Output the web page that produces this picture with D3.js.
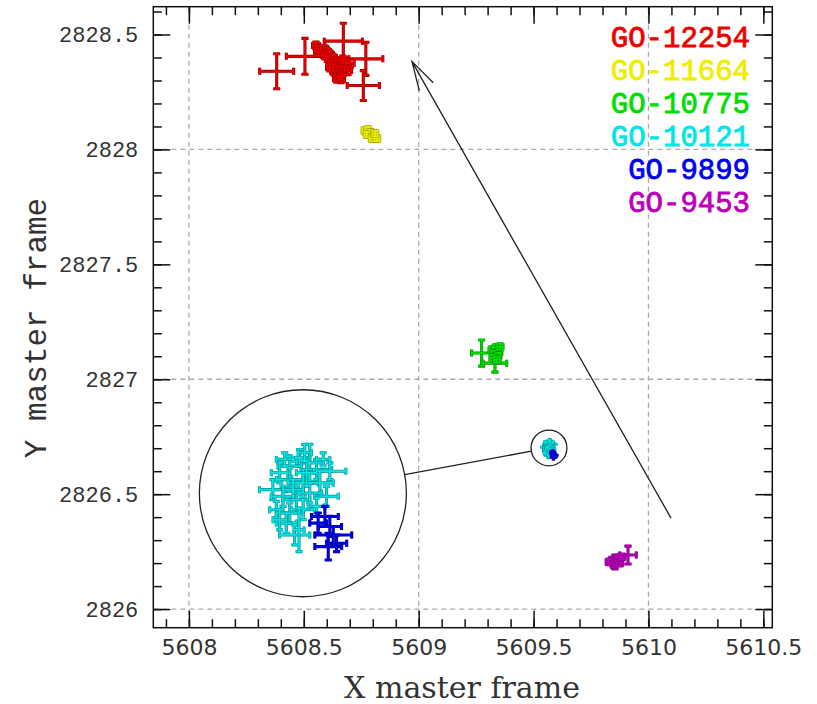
<!DOCTYPE html>
<html>
<head>
<meta charset="utf-8">
<script src="https://cdn.jsdelivr.net/npm/d3@7"></script>
<style>
  body { margin: 0; background: #fff; }
  svg { display: block; }
</style>
</head>
<body>
<svg id="chart" width="817" height="704"></svg>
<script>
// series: [x, y, xerr, yerr]
const seriesNames = ["GO-12254", "GO-11664", "GO-10775", "GO-10121", "GO-9899", "GO-9453"];
const seriesColors = ["#ee0000", "#eeee00", "#00dd00", "#00e6e6", "#0000ee", "#bb00bb"];

const go12254 = [
  [5608.382, 2828.340, 0.074, 0.076], [5608.505, 2828.405, 0.081, 0.078],
  [5608.672, 2828.471, 0.083, 0.078], [5608.770, 2828.394, 0.074, 0.072],
  [5608.759, 2828.278, 0.070, 0.065],
  [5608.553, 2828.452, 0.015, 0.015], [5608.570, 2828.435, 0.015, 0.015],
  [5608.561, 2828.422, 0.014, 0.015], [5608.588, 2828.439, 0.015, 0.014],
  [5608.601, 2828.426, 0.015, 0.015], [5608.592, 2828.409, 0.014, 0.015],
  [5608.614, 2828.413, 0.015, 0.015], [5608.627, 2828.400, 0.015, 0.014],
  [5608.609, 2828.391, 0.015, 0.015], [5608.635, 2828.382, 0.014, 0.015],
  [5608.622, 2828.369, 0.015, 0.015], [5608.649, 2828.374, 0.015, 0.015],
  [5608.640, 2828.356, 0.015, 0.014], [5608.657, 2828.348, 0.015, 0.015],
  [5608.631, 2828.339, 0.014, 0.015], [5608.649, 2828.326, 0.015, 0.015],
  [5608.666, 2828.330, 0.015, 0.015], [5608.644, 2828.308, 0.015, 0.015],
  [5608.662, 2828.304, 0.015, 0.014], [5608.679, 2828.365, 0.016, 0.016],
  [5608.670, 2828.391, 0.015, 0.015], [5608.614, 2828.356, 0.015, 0.015],
  [5608.701, 2828.374, 0.018, 0.017], [5608.692, 2828.343, 0.016, 0.018]
];
const go11664 = [
  [5608.766, 2828.082, 0.012, 0.012], [5608.779, 2828.086, 0.012, 0.012],
  [5608.792, 2828.073, 0.012, 0.012], [5608.775, 2828.064, 0.012, 0.012],
  [5608.805, 2828.060, 0.012, 0.012], [5608.797, 2828.047, 0.012, 0.012],
  [5608.818, 2828.047, 0.012, 0.012], [5608.810, 2828.069, 0.012, 0.012]
];
const go10775 = [
  [5609.274, 2827.114, 0.044, 0.057], [5609.332, 2827.070, 0.051, 0.039],
  [5609.319, 2827.128, 0.013, 0.013], [5609.336, 2827.137, 0.013, 0.013],
  [5609.349, 2827.119, 0.013, 0.013], [5609.328, 2827.111, 0.013, 0.013],
  [5609.345, 2827.102, 0.013, 0.013], [5609.323, 2827.093, 0.013, 0.013],
  [5609.341, 2827.085, 0.013, 0.013], [5609.354, 2827.141, 0.013, 0.013]
];
const go10121 = [
  [5609.5722, 2826.7239, 0.0101, 0.0139], [5609.5646, 2826.7277, 0.0076, 0.0063],
  [5609.5571, 2826.7214, 0.0088, 0.0076], [5609.5495, 2826.7164, 0.0063, 0.0076],
  [5609.5773, 2826.7189, 0.0114, 0.0076], [5609.5873, 2826.7176, 0.0121, 0.0063],
  [5609.5444, 2826.7037, 0.0101, 0.0076], [5609.5571, 2826.7113, 0.0101, 0.0088],
  [5609.5672, 2826.7088, 0.0114, 0.0101], [5609.5798, 2826.7088, 0.0101, 0.0088],
  [5609.5848, 2826.6987, 0.0088, 0.0076], [5609.5520, 2826.6987, 0.0088, 0.0076],
  [5609.5621, 2826.6962, 0.0101, 0.0101], [5609.5722, 2826.7012, 0.0088, 0.0076],
  [5609.5470, 2826.6886, 0.0050, 0.0063], [5609.5571, 2826.6861, 0.0101, 0.0076],
  [5609.5672, 2826.6886, 0.0088, 0.0076], [5609.5545, 2826.6785, 0.0076, 0.0076],
  [5609.5608, 2826.6696, 0.0114, 0.0076], [5609.5641, 2826.6734, 0.0038, 0.0164],
  [5609.5773, 2826.6911, 0.0063, 0.0063], [5609.5495, 2826.6810, 0.0050, 0.0076],
  [5609.5697, 2826.7164, 0.0076, 0.0101], [5609.5596, 2826.7037, 0.0076, 0.0076],
  [5609.5823, 2826.7265, 0.0050, 0.0050], [5609.5533, 2826.7265, 0.0063, 0.0050],
  [5609.5684, 2826.7315, 0.0050, 0.0063]
];
const go9899 = [
  [5609.5836, 2826.6835, 0.0101, 0.0076], [5609.5873, 2826.6760, 0.0088, 0.0076],
  [5609.5899, 2826.6696, 0.0139, 0.0063], [5609.5861, 2826.6608, 0.0101, 0.0101],
  [5609.5785, 2826.6785, 0.0063, 0.0076], [5609.5924, 2826.6633, 0.0076, 0.0063]
];
const go9453 = [
  [5609.911, 2826.235, 0.036, 0.039], [5609.854, 2826.205, 0.030, 0.030],
  [5609.841, 2826.213, 0.012, 0.012], [5609.867, 2826.222, 0.012, 0.012],
  [5609.876, 2826.200, 0.012, 0.012], [5609.850, 2826.192, 0.012, 0.012],
  [5609.885, 2826.227, 0.012, 0.012], [5609.828, 2826.205, 0.012, 0.012]
];
const allSeries = [go12254, go11664, go10775, go10121, go9899, go9453];

const xTicks = [5608, 5608.5, 5609, 5609.5, 5610, 5610.5];
const yTicks = [2826, 2826.5, 2827, 2827.5, 2828, 2828.5];
const xGrid = [5608, 5609, 5610];
const yGrid = [2826, 2827, 2828];

// zoom: small circle round the GO-10121/9899 clump, big circle is the magnified copy
const zoomFrom = [5609.567, 2826.701, 0.078];
const zoomTo = [5608.496, 2826.504, 0.4505];
const arrowFrom = [5610.098, 2826.396];
const arrowTo = [5608.971, 2828.382];

const svg = d3.select("#chart"),
      margin = {top: 6.7, right: 44.7, bottom: 76.3, left: 153.3},
      width = +svg.attr("width") - margin.left - margin.right,
      height = +svg.attr("height") - margin.top - margin.bottom;

const g = svg.append("g").attr("transform", `translate(${margin.left},${margin.top})`);

const x = d3.scaleLinear().domain([5607.845, 5610.539]).range([0, width]);
const y = d3.scaleLinear().domain([2825.919, 2828.621]).range([height, 0]);

// grid
g.selectAll(".gx").data(xGrid).join("line")
  .attr("x1", d => x(d)).attr("x2", d => x(d)).attr("y1", 0).attr("y2", height)
  .attr("stroke", "#aaa").attr("stroke-width", 1.3).attr("stroke-dasharray", "5,4");
g.selectAll(".gy").data(yGrid).join("line")
  .attr("y1", d => y(d)).attr("y2", d => y(d)).attr("x1", 0).attr("x2", width)
  .attr("stroke", "#aaa").attr("stroke-width", 1.3).attr("stroke-dasharray", "5,4");

// circles + connector
const c1 = {cx: x(zoomFrom[0]), cy: y(zoomFrom[1]), r: x(zoomFrom[0] + zoomFrom[2]) - x(zoomFrom[0])};
const c2 = {cx: x(zoomTo[0]), cy: y(zoomTo[1]), r: x(zoomTo[0] + zoomTo[2]) - x(zoomTo[0])};
const mag = c2.r / c1.r;

[c1, c2].forEach(c => {
  g.append("circle").attr("cx", c.cx).attr("cy", c.cy).attr("r", c.r)
    .attr("fill", "none").attr("stroke", "#222").attr("stroke-width", 1.3);
});
const dx = c1.cx - c2.cx, dy = c1.cy - c2.cy, len = Math.hypot(dx, dy);
g.append("line")
  .attr("x1", c2.cx + dx / len * c2.r).attr("y1", c2.cy + dy / len * c2.r)
  .attr("x2", c1.cx - dx / len * c1.r).attr("y2", c1.cy - dy / len * c1.r)
  .attr("stroke", "#222").attr("stroke-width", 1.3);

// arrow
const ax1 = x(arrowFrom[0]), ay1 = y(arrowFrom[1]), ax2 = x(arrowTo[0]), ay2 = y(arrowTo[1]);
const ang = Math.atan2(ay2 - ay1, ax2 - ax1), headLen = 30, headAng = 0.27;
g.append("path")
  .attr("d", `M${ax1},${ay1}L${ax2},${ay2}` +
    `M${ax2 - headLen * Math.cos(ang - headAng)},${ay2 - headLen * Math.sin(ang - headAng)}L${ax2},${ay2}` +
    `L${ax2 - headLen * Math.cos(ang + headAng)},${ay2 - headLen * Math.sin(ang + headAng)}`)
  .attr("fill", "none").attr("stroke", "#222").attr("stroke-width", 1.3);

function crossPath(d, px, py, cap) {
  const xc = px(d[0]), yc = py(d[1]);
  const xl = px(d[0] - d[2]), xr = px(d[0] + d[2]);
  const yt = py(d[1] + d[3]), yb = py(d[1] - d[3]);
  return `M${xl},${yc}H${xr}M${xc},${yt}V${yb}` +
    `M${xl},${yc - cap}V${yc + cap}M${xr},${yc - cap}V${yc + cap}` +
    `M${xc - cap},${yt}H${xc + cap}M${xc - cap},${yb}H${xc + cap}`;
}

function drawSeries(layer, data, color, px, py, cap, w) {
  const dark = d3.color(color).darker(1.3);
  layer.append("g").selectAll("path").data(data).join("path")
    .attr("d", d => crossPath(d, px, py, cap))
    .attr("fill", "none").attr("stroke", dark).attr("stroke-width", w + 1.4);
  layer.append("g").selectAll("path").data(data).join("path")
    .attr("d", d => crossPath(d, px, py, cap))
    .attr("fill", "none").attr("stroke", color).attr("stroke-width", w);
}

const marks = g.append("g");
allSeries.forEach((s, i) => {
  const small = i === 3 || i === 4;
  s.forEach(d => drawSeries(marks, [d], seriesColors[i], x, y, small ? 1.5 : 3.5, small ? 1 : 1.7));
});

// magnified copy inside big circle
const ix = v => c2.cx + (x(v) - c1.cx) * mag;
const iy = v => c2.cy + (y(v) - c1.cy) * mag;
const inset = g.append("g");
[3, 4].forEach(i => {
  allSeries[i].forEach(d => drawSeries(inset, [d], seriesColors[i], ix, iy, 3.5, 1.7));
});

// frame + ticks
g.append("rect").attr("width", width).attr("height", height)
  .attr("fill", "none").attr("stroke", "#111").attr("stroke-width", 1.5);

const xMinor = d3.range(5607.9, 5610.55, 0.1);
const yMinor = d3.range(2826, 2828.65, 0.1);

function styleAxis(sel) {
  sel.select(".domain").remove();
  sel.selectAll(".tick line").attr("stroke", "#111").attr("stroke-width", 1.5);
}

const bottom = g.append("g").attr("transform", `translate(0,${height})`)
  .call(d3.axisBottom(x).tickValues(xTicks).tickSize(-17).tickPadding(12).tickFormat(d3.format("")));
bottom.call(styleAxis);
bottom.selectAll("text").attr("font-family", "DejaVu Sans").attr("font-size", 22).attr("fill", "#333");
g.append("g").attr("transform", `translate(0,${height})`)
  .call(d3.axisBottom(x).tickValues(xMinor).tickSize(-8.5).tickFormat("")).call(styleAxis);

g.append("g").call(d3.axisTop(x).tickValues(xTicks).tickSize(-17).tickFormat("")).call(styleAxis);
g.append("g").call(d3.axisTop(x).tickValues(xMinor).tickSize(-8.5).tickFormat("")).call(styleAxis);

const left = g.append("g")
  .call(d3.axisLeft(y).tickValues(yTicks).tickSize(-17).tickPadding(15).tickFormat(d3.format("")));
left.call(styleAxis);
left.selectAll("text").attr("font-family", "Liberation Mono").attr("font-size", 22).attr("fill", "#333");
g.append("g").call(d3.axisLeft(y).tickValues(yMinor).tickSize(-8.5).tickFormat("")).call(styleAxis);

g.append("g").attr("transform", `translate(${width},0)`)
  .call(d3.axisRight(y).tickValues(yTicks).tickSize(-17).tickFormat("")).call(styleAxis);
g.append("g").attr("transform", `translate(${width},0)`)
  .call(d3.axisRight(y).tickValues(yMinor).tickSize(-8.5).tickFormat("")).call(styleAxis);

// axis titles
svg.append("text")
  .attr("x", 462).attr("y", 698)
  .attr("text-anchor", "middle")
  .attr("font-family", "DejaVu Serif").attr("font-size", 30).attr("fill", "#333")
  .text("X master frame");

svg.append("text")
  .attr("transform", "translate(46,328) rotate(-90)")
  .attr("text-anchor", "middle")
  .attr("font-family", "Liberation Mono").attr("font-size", 31).attr("fill", "#333")
  .text("Y master frame");

// legend
svg.append("g").selectAll("text").data(seriesNames).join("text")
  .attr("x", 750).attr("y", (d, i) => 46.7 + i * 33)
  .attr("text-anchor", "end")
  .attr("font-family", "Liberation Mono").attr("font-size", 29)
  .attr("fill", (d, i) => seriesColors[i])
  .attr("stroke", (d, i) => seriesColors[i]).attr("stroke-width", 0.8)
  .text(d => d);
</script>
</body>
</html>
